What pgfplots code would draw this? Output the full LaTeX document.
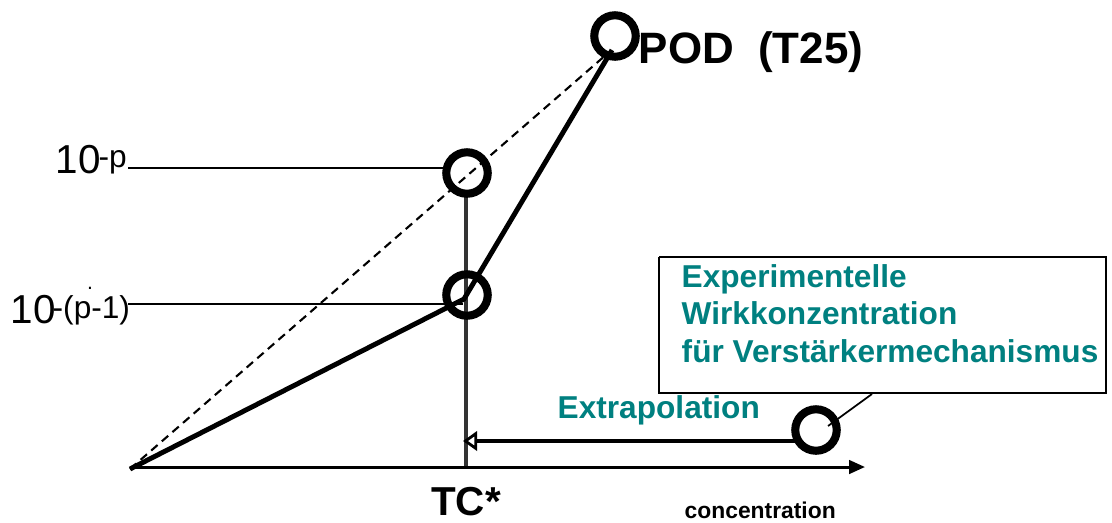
\documentclass[border=0pt]{standalone}
\usepackage{fontspec}
\setmainfont{Liberation Sans}
\usepackage{pgfplots}
\pgfplotsset{compat=1.18}
\usetikzlibrary{arrows.meta}
\definecolor{tealc}{RGB}{0,128,128}
\begin{document}
\begin{tikzpicture}
\begin{axis}[scale only axis, width=11.12cm, height=5.22cm,
  xmin=0, xmax=1112, ymin=0, ymax=522, y dir=reverse,
  hide axis, clip=false]
\path (axis cs:0,0) rectangle (axis cs:1112,522);
% guide lines
\addplot[black, line width=0.5pt] coordinates {(128,168) (444,168)};
\addplot[black, line width=0.5pt] coordinates {(128,304) (463,304)};
\addplot[black!80, line width=0.9pt] coordinates {(466,197) (466,467)};
% dashed reference line
\addplot[black, line width=0.6pt, dash pattern=on 2.4pt off 1.6pt] coordinates {(130,469) (607,54)};
% solid dose-response
\addplot[black, line width=1.4pt] coordinates {(130,469) (464,299) (612,50)};
% x axis
\addplot[black, line width=0.85pt, -{Triangle[length=4.5pt,width=3.8pt]}] coordinates {(130,467) (865,467)};
% extrapolation arrow
\addplot[black, line width=1.4pt, -{Triangle[length=4pt,width=5.5pt,fill=white,line width=0.8pt]}] coordinates {(795,441) (463,441)};
% box
\addplot[black, line width=0.6pt] coordinates {(659,257) (1106,257) (1106,393) (659,393) (659,257)};
\addplot[black, line width=0.5pt] coordinates {(872,394) (828,426)};
% circles
\addplot[only marks, mark=o, mark size=5.9pt, mark options={line width=2.3pt, black}] coordinates {(467,173) (467,295) (615,36) (816,430)};
% texts
\node[anchor=base west, inner sep=0, font=\fontsize{11.5}{14}\selectfont] at (axis cs:55,173) {10};
\node[anchor=base west, inner sep=0, font=\fontsize{9}{11}\selectfont] at (axis cs:98,167) {-p};
\node[anchor=base west, inner sep=0, font=\fontsize{11.5}{14}\selectfont] at (axis cs:10,323) {10};
\node[anchor=base west, inner sep=0, font=\fontsize{9}{11}\selectfont] at (axis cs:52,318) {-(p-1)};
\node[anchor=center, inner sep=0, font=\fontsize{6}{7}\selectfont] at (axis cs:90,288) {.};
\node[anchor=base west, inner sep=0, font=\bfseries\fontsize{12.5}{15}\selectfont] at (axis cs:638,63) {POD\ \ (T25)};
\node[anchor=base, inner sep=0, font=\bfseries\fontsize{11.5}{14}\selectfont] at (axis cs:466,515) {TC*};
\node[anchor=base west, inner sep=0, font=\bfseries\fontsize{6.5}{8}\selectfont] at (axis cs:684,518) {concentration};
\node[anchor=base west, inner sep=0, text=tealc, font=\bfseries\fontsize{9}{11}\selectfont] at (axis cs:557,418) {Extrapolation};
\node[anchor=base west, inner sep=0, text=tealc, font=\bfseries\fontsize{9}{11}\selectfont] at (axis cs:681,287) {Experimentelle};
\node[anchor=base west, inner sep=0, text=tealc, font=\bfseries\fontsize{9}{11}\selectfont] at (axis cs:681,324) {Wirkkonzentration};
\node[anchor=base west, inner sep=0, text=tealc, font=\bfseries\fontsize{9}{11}\selectfont] at (axis cs:681,362) {für Verstärkermechanismus};
\end{axis}
\end{tikzpicture}
\end{document}
